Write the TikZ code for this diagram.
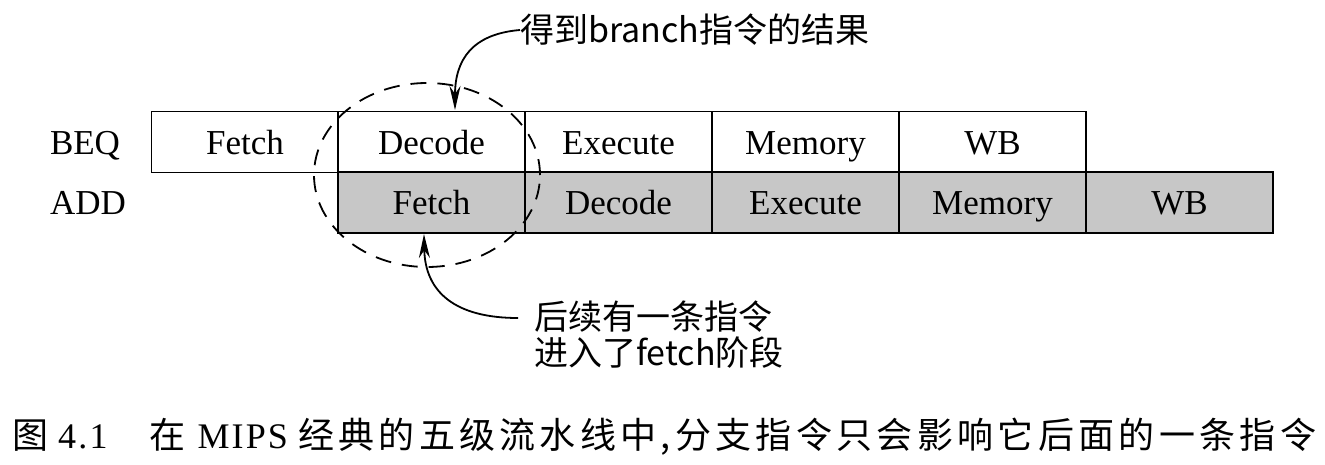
\documentclass[tikz,border=0pt]{standalone}
\usepackage{fontspec}
\setmainfont{Liberation Serif}
\newfontfamily\cjk{Noto Sans CJK SC}
\newfontfamily\cjkcap[LetterSpace=12]{Noto Sans CJK SC}
\newfontfamily\latcap[LetterSpace=6]{Liberation Serif}
\usetikzlibrary{arrows.meta}
\definecolor{shade}{gray}{0.78}
\tikzset{
  cell/.style={draw, line width=1.8pt, minimum width=187pt, minimum height=61pt, inner sep=0pt,
    text height=28pt, text depth=4pt, font=\fontsize{35}{40}\selectfont},
  shaded/.style={cell, fill=shade},
  rowlabel/.style={font=\fontsize{35}{40}\selectfont, text height=28pt, text depth=4pt},
  note/.style={font=\cjk\fontsize{34}{36}\selectfont, inner sep=0pt},
  pointer/.style={line width=1.8pt, -{Stealth[length=24pt,width=11pt]}},
  ring/.style={dashed, dash pattern=on 16pt off 11pt, line width=1.8pt}
}
\begin{document}
\begin{tikzpicture}[x=1pt,y=-1pt]
\useasboundingbox (0,0) rectangle (1325,464);
% row labels
\node[rowlabel] (beq) at (85,142) {BEQ};
\node[rowlabel] (add) at (88,202) {ADD};
% ADD row (shaded)
\node[shaded] (a1) at (431.5,202.5) {Fetch};
\node[shaded] (a2) at (618.5,202.5) {Decode};
\node[shaded] (a3) at (805.5,202.5) {Execute};
\node[shaded] (a4) at (992.5,202.5) {Memory};
\node[shaded] (a5) at (1179.5,202.5) {WB};
% BEQ row
\node[cell] (b1) at (245,142) {Fetch};
\node[cell] (b2) at (431.5,142) {Decode};
\node[cell] (b3) at (618.5,142) {Execute};
\node[cell] (b4) at (805.5,142) {Memory};
\node[cell] (b5) at (992.5,142) {WB};
% dashed ellipse
\draw[ring] (427,175) ellipse [x radius=113pt, y radius=92pt];
% top note
\node[note, anchor=west] (top) at (520,30) {得到branch指令的结果};
\coordinate (tipA) at (455,110);
\draw[pointer] (top.west) .. controls (472,34) and (455,60) .. (tipA);
% bottom note
\node[note, anchor=west, align=left] (bot) at (534,335) {后续有一条指令\\进入了fetch阶段};
\coordinate (startB) at (518,318);
\coordinate (tipB) at (424,234);
\draw[pointer] (startB) .. controls (455,318) and (425,292) .. (tipB);
% caption
\node[font=\fontsize{36}{40}\selectfont, inner sep=0pt, anchor=west] (cap) at (12,437)
  {\cjkcap 图\hspace{10pt}\latcap 4.1\hspace{42pt}\cjkcap 在\hspace{12pt}\latcap MIPS\hspace{10pt}\cjkcap 经典的五级流水线中,分支指令只会影响它后面的一条指令};
\end{tikzpicture}
\end{document}
